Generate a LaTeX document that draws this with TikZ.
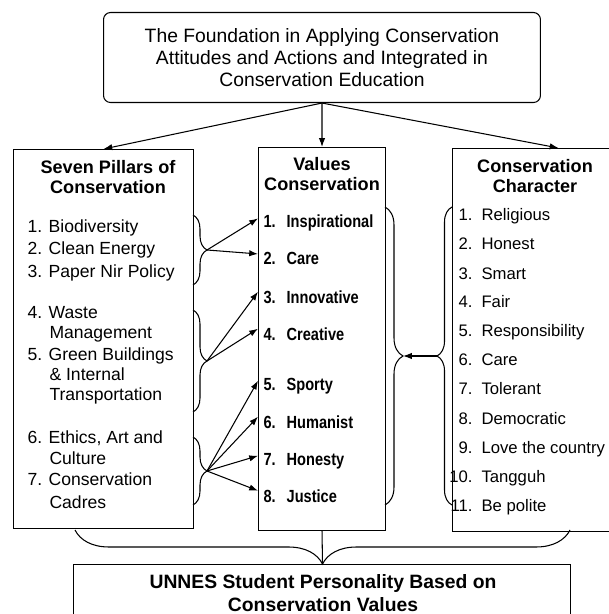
\documentclass[tikz,border=0pt]{standalone}
\usepackage{fontspec}
\setmainfont{Liberation Sans}
\newfontfamily\narrowfont[FakeStretch=0.83]{Liberation Sans}
\usetikzlibrary{arrows.meta,decorations.pathreplacing}

\tikzset{
  box/.style={draw, anchor=north west, inner sep=0pt},
  heading/.style={align=center, font=\bfseries\fontsize{10.3}{11.8}\selectfont},
  pitem/.style={anchor=base west, inner sep=0pt, font=\fontsize{10}{12}\selectfont},
  vitem/.style={anchor=base west, inner xsep=0.1cm, inner ysep=0pt, font=\narrowfont\bfseries\fontsize{10}{12}\selectfont},
  citem/.style={anchor=base west, inner sep=0pt, font=\fontsize{9.5}{11}\selectfont},
  curly/.style={decorate, decoration={brace, amplitude=#1}}
}

\begin{document}
\begin{tikzpicture}[x=0.02cm,y=-0.02cm,line width=0.6pt,>={Latex[length=5pt,width=3.6pt]}]
	\useasboundingbox (0,0) rectangle (608,614);
	% boxes
	\node[box, rounded corners=0.14cm, minimum width=8.74cm, minimum height=1.8cm,
	align=center, font=\fontsize{11}{12.5}\selectfont] (found) at (103,12)
	{The Foundation in Applying Conservation\\Attitudes and Actions and Integrated in\\Conservation Education};
	\node[box, minimum width=3.6cm, minimum height=7.58cm] (pil) at (13,149) {};
	\node[box, minimum width=2.54cm, minimum height=7.66cm] (val) at (258,147) {};
	\node[box, minimum width=4.24cm, minimum height=7.66cm] (char) at (452,148) {};
	\node[box, minimum width=9.94cm, minimum height=1.92cm] (res) at (73,564) {};
	% headings
	\node[heading] (pilhead) at (108,177) {Seven Pillars of\\Conservation};
	\node[heading] (valhead) at (322,174) {Values\\Conservation};
	\node[heading] (charhead) at (535,176) {Conservation\\Character};
	\node[heading, font=\bfseries\fontsize{11}{13}\selectfont] (reshead) at (323,593)
	{UNNES Student Personality Based on\\Conservation Values};
	% lists
	\foreach \x/\y/\t [count=\i] in {27/233/1. Biodiversity, 27/255/2. Clean Energy,
		27/277/3. Paper Nir Policy, 27/318/4. Waste, 49/338/Management,
		27/360/5. Green Buildings, 49/380/\& Internal, 49/400/Transportation,
		27/443/{6. Ethics, Art and}, 49/464/Culture, 27/485/7. Conservation, 49/508/Cadres}
		\node[pitem] (p\i) at (\x,\y) {\t};
	\foreach \y/\t [count=\i] in {228/Inspirational, 265/Care, 303/Innovative, 340/Creative,
		390/Sporty, 428/Humanist, 465/Honesty, 502/Justice}
		\node[vitem] (v\i) at (258,\y) {\i.\hspace{0.22cm}\t};
	\foreach \y/\t [count=\i] in {221/Religious, 250/Honest, 279/Smart, 308/Fair,
		337/Responsibility, 365/Care, 394/Tolerant, 424/Democratic,
		453/Love the country, 482/Tangguh, 511/Be polite}
		\node[citem] (c\i) at (452,\y) {\makebox[0.4cm][r]{\i.}\hspace{0.18cm}\t};
	% top arrows
	\draw[->] (found.south) -- (pil.north);
	\draw[->] (found.south) -- (val.north);
	\draw[->] (found.south) -- (char.north);
	% braces
	\draw[curly=0.28cm] (193,215) -- (193,285);
	\draw[curly=0.28cm] (193,310) -- (193,412);
	\draw[curly=0.28cm] (193,437) -- (193,505);
	\coordinate (b1) at (207,250);
	\coordinate (b2) at (207,361);
	\coordinate (b3) at (207,471);
	\foreach \v in {1,2} \draw[->] (b1) -- ([yshift=0.1cm]v\v.west);
	\foreach \v in {3,4} \draw[->] (b2) -- ([yshift=0.1cm]v\v.west);
	\foreach \v in {5,...,8} \draw[->] (b3) -- ([yshift=0.1cm]v\v.west);
	\draw[curly=0.36cm] (385,207) -- (385,505);
	\draw[curly=0.3cm] (452,505) -- (452,207);
	\coordinate (vr) at (403,356);
	\coordinate (cr) at (437,356);
	\draw[->] (cr) -- (vr);
	\draw[curly=0.68cm] (570,530) -- (75,530);
	\coordinate (bt) at (322.5,564);
	\draw (val.south) -- (bt);
\end{tikzpicture}
\end{document}
